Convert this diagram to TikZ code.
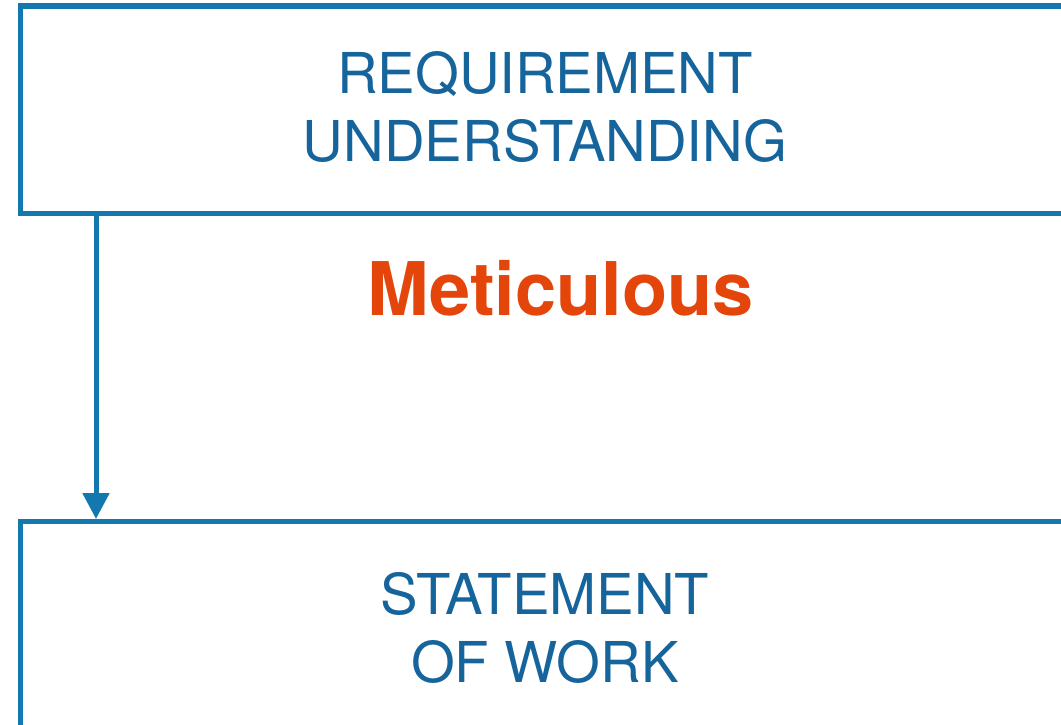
\documentclass[tikz,border=0pt]{standalone}
\usepackage{fontspec}
\setmainfont{TeX Gyre Heros}
\usetikzlibrary{arrows.meta}
\definecolor{boxblue}{RGB}{18,120,174}
\definecolor{textblue}{RGB}{22,100,156}
\definecolor{accent}{RGB}{228,69,10}
\tikzset{
  stagebox/.style={draw=boxblue, line width=5.5pt, fill=white, inner sep=0pt, outer sep=0pt},
  stagetext/.style={text=textblue, font=\fontsize{56.3}{67.5}\selectfont, align=center, inner sep=0pt, anchor=base},
  flowarrow/.style={draw=boxblue, line width=5pt, -{Triangle[length=26pt,width=26pt]}},
  keyword/.style={text=accent, font=\bfseries\fontsize{74}{80}\selectfont, inner sep=0pt, anchor=base}
}
\begin{document}
\begin{tikzpicture}[x=1pt,y=-1pt]
\useasboundingbox (0,0) rectangle (1061,725);
\clip (0,0) rectangle (1061,725);
\node[stagebox, minimum width=1080pt, minimum height=207.5pt, anchor=north west] (top) at (20.5,6) {};
\node[stagebox, minimum width=1080pt, minimum height=260pt, anchor=north west] (bottom) at (20.5,521.5) {};
\node[stagetext] (toptext) at (545,161) {REQUIREMENT\\UNDERSTANDING};
\node[stagetext] (bottomtext) at (545,682) {STATEMENT\\OF WORK};
\node[keyword] (kw) at (561,315) {Meticulous};
\coordinate (tip) at (96,519);
\draw[flowarrow] (top.south west -| tip) -- (tip);
\end{tikzpicture}
\end{document}
